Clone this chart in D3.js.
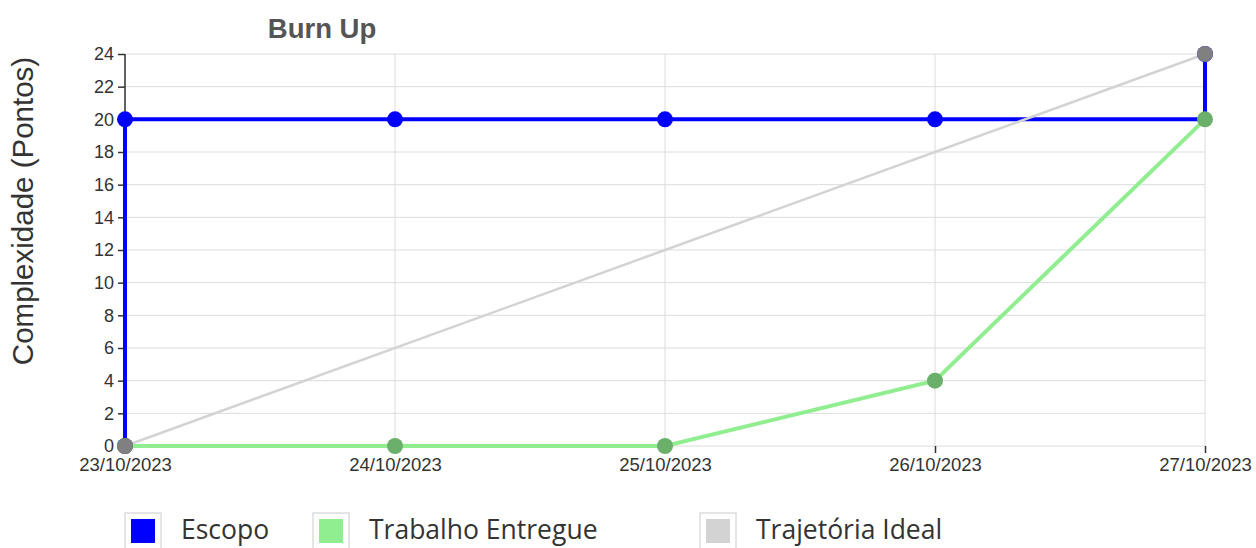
<!DOCTYPE html>
<html>
<head>
<meta charset="utf-8">
<script src="https://cdn.jsdelivr.net/npm/d3@7"></script>
<style>
  html, body { margin: 0; padding: 0; background: #fff; }
  svg { display: block; }
</style>
</head>
<body>
<svg id="chart" width="1256" height="548"></svg>
<script>
// ---- data ----
const dates = ["2023-10-23", "2023-10-24", "2023-10-25", "2023-10-26", "2023-10-27"];
const escopoDates = ["2023-10-23", "2023-10-23", "2023-10-24", "2023-10-25", "2023-10-26", "2023-10-27"];
const escopoValues = [0, 20, 20, 20, 20, 24];
const trabalhoValues = [0, 0, 0, 4, 20];
const idealDates = ["2023-10-23", "2023-10-27"];
const idealValues = [0, 24];
const yTicks = [0, 2, 4, 6, 8, 10, 12, 14, 16, 18, 20, 22, 24];
const legendLabels = ["Escopo", "Trabalho Entregue", "Trajetória Ideal"];

(function () {
const parse = d3.timeParse("%Y-%m-%d");
const fmt = d3.timeFormat("%d/%m/%Y");

const svg = d3.select("#chart");
const pLeft = 125, pRight = 1205, pTop = 54, pBottom = 446;

const x = d3.scaleTime().domain([parse(dates[0]), parse(dates[dates.length - 1])]).range([pLeft, pRight]);
const y = d3.scaleLinear().domain([0, 24]).range([pBottom, pTop]);

const font = "'Liberation Sans', Arial, Helvetica, sans-serif";

// grid
const g = svg.append("g");
g.selectAll(".hg").data(yTicks).enter().append("line")
  .attr("x1", pLeft).attr("x2", pRight)
  .attr("y1", d => y(d)).attr("y2", d => y(d))
  .attr("stroke", "#dcdcdc").attr("stroke-width", 1);
g.selectAll(".vg").data(dates).enter().append("line")
  .attr("x1", d => x(parse(d))).attr("x2", d => x(parse(d)))
  .attr("y1", pTop).attr("y2", pBottom)
  .attr("stroke", "#dcdcdc").attr("stroke-width", 1);

// axes
const yAxis = svg.append("g").attr("transform", `translate(${pLeft},0)`)
  .call(d3.axisLeft(y).tickValues(yTicks).tickSize(7).tickPadding(4));
yAxis.select(".domain").attr("stroke", "#333").attr("stroke-width", 1.5).attr("d", `M0,${pTop}V${pBottom}`);
yAxis.selectAll(".tick line").attr("stroke", "#333").attr("stroke-width", 1.5);
yAxis.selectAll("text").attr("font-family", font).attr("font-size", 18).attr("fill", "#333");

const xAxis = svg.append("g").attr("transform", `translate(0,${pBottom})`)
  .call(d3.axisBottom(x).tickValues(dates.map(parse)).tickFormat(fmt).tickSize(7).tickPadding(5));
xAxis.select(".domain").remove();
xAxis.selectAll(".tick line").attr("stroke", "#333").attr("stroke-width", 1.5);
xAxis.selectAll("text").attr("font-family", font).attr("font-size", 18.5).attr("fill", "#333");

// series
const escopo = escopoDates.map((d, i) => ({ d: parse(d), v: escopoValues[i] }));
const trabalho = dates.map((d, i) => ({ d: parse(d), v: trabalhoValues[i] }));
const ideal = idealDates.map((d, i) => ({ d: parse(d), v: idealValues[i] }));

const stepLine = d3.line().x(p => x(p.d)).y(p => y(p.v)).curve(d3.curveStepAfter);
const line = d3.line().x(p => x(p.d)).y(p => y(p.v));

svg.append("path").datum(escopo).attr("d", stepLine)
  .attr("fill", "none").attr("stroke", "#0000ff").attr("stroke-width", 4);
svg.append("path").datum(trabalho).attr("d", line)
  .attr("fill", "none").attr("stroke", "#90ee90").attr("stroke-width", 4);
svg.append("path").datum(ideal).attr("d", line)
  .attr("fill", "none").attr("stroke", "#d3d3d3").attr("stroke-width", 2.5);

svg.selectAll(".de").data(escopo).enter().append("circle")
  .attr("cx", p => x(p.d)).attr("cy", p => y(p.v)).attr("r", 8).attr("fill", "#0000ff");
svg.selectAll(".dt").data(trabalho).enter().append("circle")
  .attr("cx", p => x(p.d)).attr("cy", p => y(p.v)).attr("r", 8).attr("fill", "#6aaf6a");
svg.selectAll(".di").data(ideal).enter().append("circle")
  .attr("cx", p => x(p.d)).attr("cy", p => y(p.v)).attr("r", 8).attr("fill", "#808080");

// title
svg.append("text").attr("x", 322).attr("y", 38).attr("text-anchor", "middle")
  .attr("font-family", font).attr("font-weight", "bold").attr("font-size", 27.5)
  .attr("fill", "#555").text("Burn Up");

// y label
svg.append("text").attr("transform", "translate(33,211) rotate(-90)")
  .attr("text-anchor", "middle").attr("font-family", font).attr("font-size", 29.5)
  .attr("fill", "#333").text("Complexidade (Pontos)");

// legend
const legendColors = ["#0000ff", "#90ee90", "#d3d3d3"];
const legendX = [131, 319, 706];
const lg = svg.selectAll(".lg").data(legendLabels).enter().append("g")
  .attr("transform", (d, i) => `translate(${legendX[i]},519)`);
lg.append("rect").attr("x", -6).attr("y", -6).attr("width", 36).attr("height", 36)
  .attr("fill", "#fff").attr("stroke", "#ddd").attr("stroke-width", 1.5);
lg.append("rect").attr("width", 24).attr("height", 24).attr("fill", (d, i) => legendColors[i]);
lg.append("text").attr("x", 50).attr("y", 20)
  .attr("font-family", "'Open Sans', sans-serif").attr("font-size", 26.5)
  .attr("fill", "#333").text(d => d);
})();
</script>
</body>
</html>
